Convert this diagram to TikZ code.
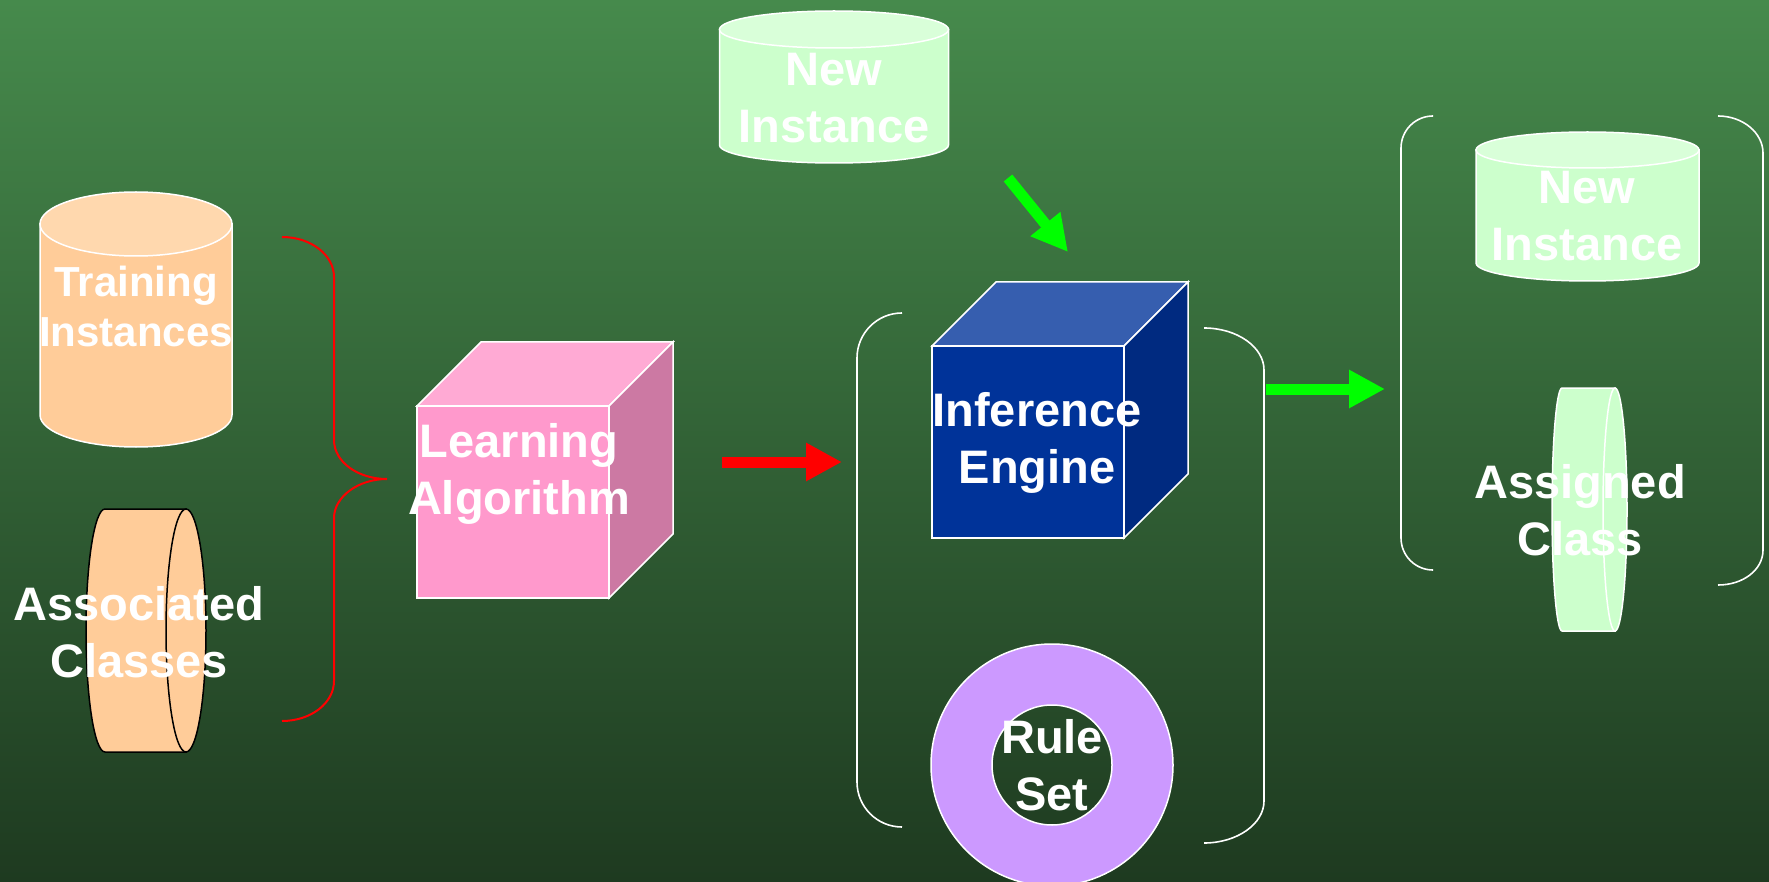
\documentclass[tikz,border=0pt]{standalone}
\usepackage{fontspec}
\setmainfont{Liberation Sans}
\usetikzlibrary{arrows.meta}
\definecolor{bgtop}{HTML}{468A4C}
\definecolor{bgbottom}{HTML}{1E3A20}
\definecolor{peach}{HTML}{FFCC99}
\definecolor{peachtop}{HTML}{FFD8AE}
\definecolor{mint}{HTML}{CCFFCC}
\definecolor{minttop}{HTML}{D9FFD9}
\definecolor{pinkfront}{HTML}{FF99CC}
\definecolor{pinktop}{HTML}{FFAAD4}
\definecolor{pinkside}{HTML}{CC79A3}
\definecolor{bluefront}{HTML}{003399}
\definecolor{bluetop}{HTML}{365EAF}
\definecolor{blueside}{HTML}{002A80}
\definecolor{lilac}{HTML}{CC99FF}

\begin{document}
\begin{tikzpicture}[x=1pt,y=-1pt,
  label/.style={text=white,font=\fontsize{47}{57}\selectfont\bfseries,align=center,anchor=base,inner sep=0pt},
  outline/.style={draw=white,line width=1.5pt},
  bracket/.style={draw=white,line width=1.6pt},
  blockarrow/.style={line width=11pt,-{Triangle[length=36pt,width=36pt]}}]
  \useasboundingbox (0,0) rectangle (1769,882);
  % Background
  \shade[top color=bgtop,bottom color=bgbottom] (0,0) rectangle (1769,882);

  % Training instances cylinder
  \draw[outline,fill=peach] (232,224) -- (232,415) arc[start angle=0,end angle=180,x radius=96,y radius=32] -- (40,224) -- cycle;
  \draw[outline,fill=peachtop] (136,224) ellipse [x radius=96,y radius=32];
  \node[label,font=\fontsize{42}{51}\selectfont\bfseries] (train) at (136,347) {Training\\Instances};

  % Associated classes disk
  \draw[black,line width=1.5pt,fill=peach] (186,509) -- (105,509) arc[start angle=-90,end angle=-270,x radius=19,y radius=121.5] -- (186,752) -- cycle;
  \draw[black,line width=1.5pt,fill=peach] (186,630.5) ellipse [x radius=20,y radius=121.5];
  \node[label] (assoc) at (139,677) {Associated\\Classes};

  % Brace joining the inputs
  \draw[red,line width=2pt] (282,237) .. controls (311,237) and (334,255) .. (334,277) -- (334,440)
    .. controls (334,462) and (358,479) .. (387,479) .. controls (358,479) and (334,497) .. (334,518)
    -- (334,681) .. controls (334,703) and (311,721) .. (282,721);

  % Learning algorithm cube
  \draw[outline,fill=pinktop] (417,406) -- (481,342) -- (673,342) -- (609,406) -- cycle;
  \draw[outline,fill=pinkside] (609,406) -- (673,342) -- (673,534) -- (609,598) -- cycle;
  \draw[outline,fill=pinkfront] (417,406) rectangle (609,598);
  \node[label] (learn) at (519,514) {Learning\\Algorithm};

  % Rules out of the learner
  \coordinate (learnOut) at (722,462);
  \coordinate (engineIn) at (842,462);
  \draw[blockarrow,red] (learnOut) -- (engineIn);

  % Classifier group
  \draw[bracket,rounded corners=45pt] (902,313) -- (857,313) -- (857,827) -- (902,827);
  \draw[bracket] (1204,328) .. controls (1237,328) and (1264,347) .. (1264,370) -- (1264,801)
    .. controls (1264,824) and (1237,843) .. (1204,843);

  % Inference engine cube
  \draw[outline,fill=bluetop] (932,346) -- (996,282) -- (1188,282) -- (1124,346) -- cycle;
  \draw[outline,fill=blueside] (1124,346) -- (1188,282) -- (1188,474) -- (1124,538) -- cycle;
  \draw[outline,fill=bluefront] (932,346) rectangle (1124,538);
  \node[label] (infer) at (1037,483) {Inference\\Engine};

  % Rule set ring
  \draw[outline,fill=lilac,even odd rule] (1052,765) circle[radius=121] (1052,765) circle[radius=60];
  \node[label] (rules) at (1052,810) {Rule\\Set};

  % New instance coming in
  \draw[outline,fill=mint] (948.5,29.5) -- (948.5,145) arc[start angle=0,end angle=180,x radius=114.5,y radius=18] -- (719.5,29.5) -- cycle;
  \draw[outline,fill=minttop] (834,29.5) ellipse [x radius=114.5,y radius=18.5];
  \node[label] (newtop) at (834,143) {New\\Instance};

  \coordinate (newOut) at (1008,178);
  \coordinate (engineTop) at (1068,252);
  \draw[blockarrow,green] (newOut) -- (engineTop);

  % Classified output
  \coordinate (engineOut) at (1266,389);
  \coordinate (resultIn) at (1385,389);
  \draw[blockarrow,green] (engineOut) -- (resultIn);

  \draw[bracket,rounded corners=32pt] (1432,116) -- (1401,116) -- (1401,570) -- (1432,570);
  \draw[bracket] (1718,116) .. controls (1743,116) and (1763,133) .. (1763,153) -- (1763,550)
    .. controls (1763,570) and (1743,585) .. (1718,585);

  \draw[outline,fill=mint] (1699,150) -- (1699,263) arc[start angle=0,end angle=180,x radius=111.5,y radius=18] -- (1476,150) -- cycle;
  \draw[outline,fill=minttop] (1587.5,150) ellipse [x radius=111.5,y radius=18];
  \node[label] (newright) at (1587,261) {New\\Instance};

  \draw[outline,fill=mint] (1615,388) -- (1562,388) arc[start angle=-90,end angle=-270,x radius=10,y radius=121.5] -- (1615,631) -- cycle;
  \draw[outline,fill=mint] (1615,509.5) ellipse [x radius=12,y radius=121.5];
  \node[label] (assigned) at (1580,555) {Assigned\\Class};
\end{tikzpicture}
\end{document}
